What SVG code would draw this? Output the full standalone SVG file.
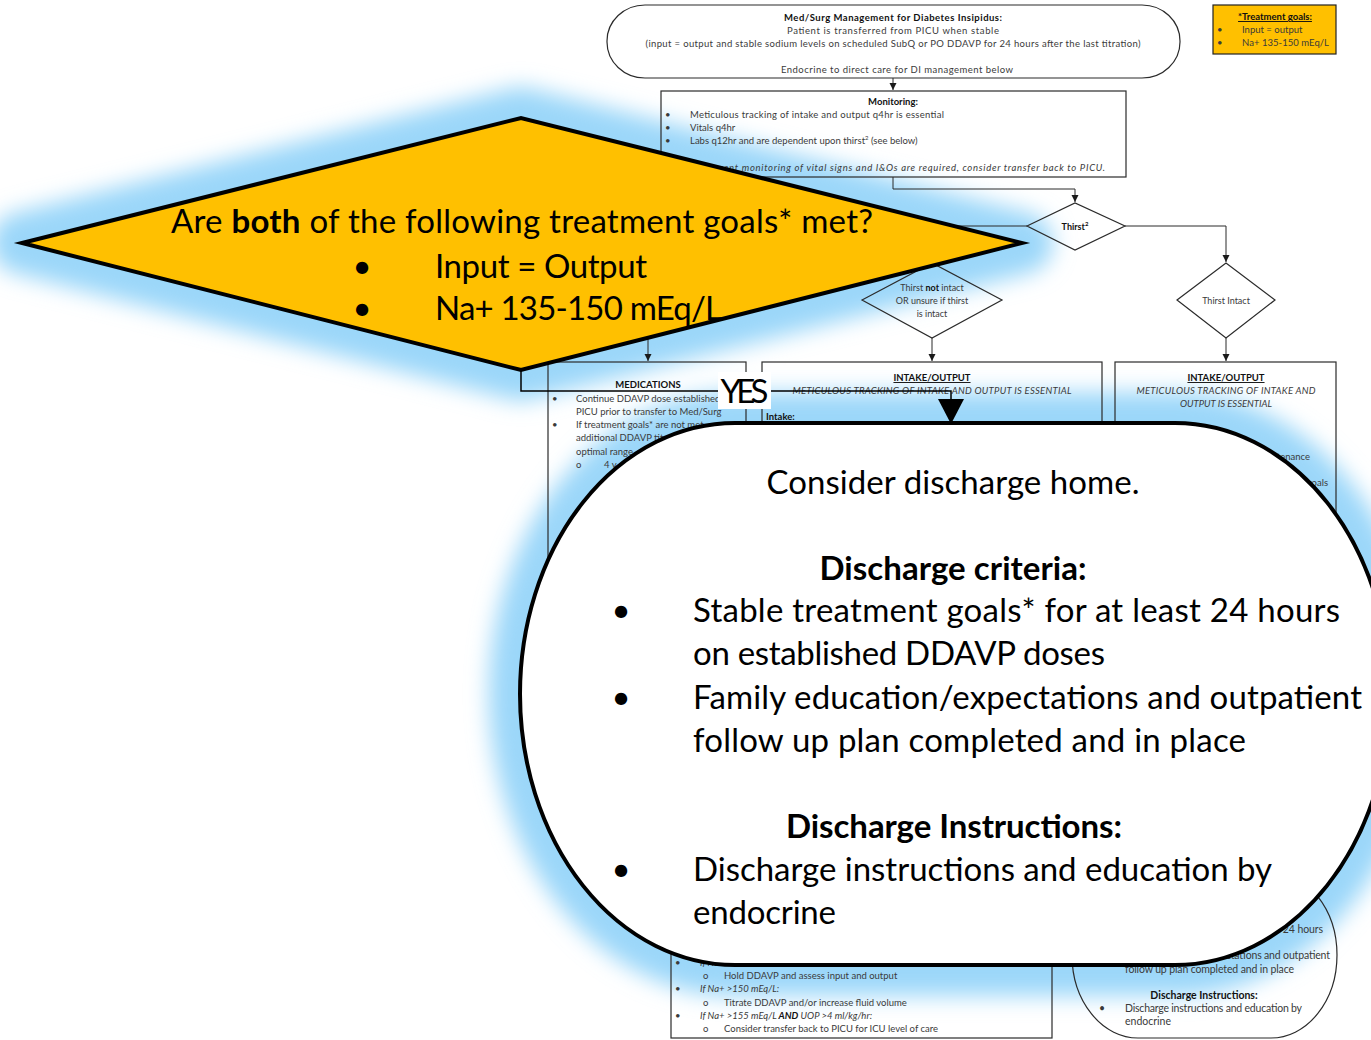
<svg xmlns="http://www.w3.org/2000/svg" width="1371" height="1040" viewBox="0 0 1371 1040">
<defs>
<style>
text{font-family:Lato,"Open Sans","Liberation Sans",sans-serif}
.s{font-size:9.5px;fill:#3a3a3a}
.t{font-size:9px;fill:#3a3a3a}
.d{font-size:10.5px;fill:#3a3a3a}
.b{font-weight:bold;fill:#111}
.i{font-style:italic}
.u{text-decoration:underline}
.m{text-anchor:middle}
.e{text-anchor:end}
.box{fill:none;stroke:#2b2b2b;stroke-width:1.2}
.ln{fill:none;stroke:#2b2b2b;stroke-width:1}
.big{font-size:33px;fill:#000}
.heavy{stroke:#000;stroke-width:4;stroke-miterlimit:12}
</style>
<marker id="ah" markerWidth="8" markerHeight="8" refX="7" refY="4" orient="auto" markerUnits="userSpaceOnUse">
<path d="M0,0.5 L7,4 L0,7.5z" fill="#1a1a1a"/>
</marker>
<filter id="glow" filterUnits="userSpaceOnUse" x="-100" y="-100" width="1600" height="1300">
<feGaussianBlur stdDeviation="11"/>
</filter>
</defs>

<rect width="1371" height="1040" fill="#fff"/>

<!-- soft blue halo behind the two enlarged shapes -->
<g id="halo" filter="url(#glow)" fill="#9bd7f9" stroke="#9bd7f9" stroke-width="62" stroke-linejoin="round">
<polygon points="22,243 521,118 1022,243 521,370"/>
<rect x="520" y="423" width="870" height="542" rx="215" ry="271"/>
</g>

<!-- underlying pathway -->
<g id="start">
<rect class="box" x="607" y="5" width="573" height="73" rx="38" ry="36"/>
<text class="s b m" x="893" y="21" textLength="218">Med/Surg Management for Diabetes Insipidus:</text>
<text class="s m" x="893" y="34" textLength="212">Patient is transferred from PICU when stable</text>
<text class="s m" x="893" y="47" textLength="495">(input = output and stable sodium levels on scheduled SubQ or PO DDAVP for 24 hours after the last titration)</text>
<text class="s m" x="897" y="73" textLength="232">Endocrine to direct care for DI management below</text>
</g>

<g id="treatment-goals">
<rect x="1213" y="5" width="123" height="49" fill="#ffc000" stroke="#222" stroke-width="1.2"/>
<text class="s b u m" x="1275" y="20">*Treatment goals:</text>
<text class="s" x="1217" y="33">•</text><text class="s" x="1242" y="33">Input = output</text>
<text class="s" x="1217" y="46">•</text><text class="s" x="1242" y="46" textLength="87">Na+ 135-150 mEq/L</text>
</g>

<g id="monitoring">
<rect class="box" x="661" y="91" width="465" height="86"/>
<text class="s b m" x="893" y="105">Monitoring:</text>
<text class="s" x="665" y="118">•</text><text class="s" x="690" y="118" textLength="254">Meticulous tracking of intake and output q4hr is essential</text>
<text class="s" x="665" y="131">•</text><text class="s" x="690" y="131">Vitals q4hr</text>
<text class="s" x="665" y="144">•</text><text class="s" x="690" y="144">Labs q12hr and are dependent upon thirst<tspan dy="-4" font-size="6">2</tspan><tspan dy="4"> (see below)</tspan></text>
<text class="s i" x="690" y="171" textLength="415">If frequent monitoring of vital signs and I&amp;Os are required, consider transfer back to PICU.</text>
</g>

<g id="thirst">
<polygon class="box" points="1027,226 1075,203 1125,226 1075,250"/>
<text class="t b m" x="1075" y="230">Thirst<tspan dy="-4" font-size="6">2</tspan></text>
</g>

<g id="thirst-not-intact">
<polygon class="box" points="862,300 932,263 1002,300 932,338"/>
<text class="t m" x="932" y="291">Thirst <tspan class="b">not</tspan> intact</text>
<text class="t m" x="932" y="304">OR unsure if thirst</text>
<text class="t m" x="932" y="317">is intact</text>
</g>

<g id="thirst-intact">
<polygon class="box" points="1177,300 1226,263 1275,300 1226,338"/>
<text class="t m" x="1226" y="304">Thirst Intact</text>
</g>

<g id="medications">
<rect class="box" x="548" y="362" width="198" height="300"/>
<text class="s b m" x="648" y="388">MEDICATIONS</text>
<text class="s" x="552" y="402">•</text><text class="s" x="576" y="402">Continue DDAVP dose established</text>
<text class="s" x="576" y="415">PICU prior to transfer to Med/Surg</text>
<text class="s" x="552" y="428">•</text><text class="s" x="576" y="428">If treatment goals* are not met</text>
<text class="s" x="576" y="441">additional DDAVP titration</text>
<text class="s" x="576" y="455">optimal range</text>
<text class="s" x="576" y="468">o</text><text class="s" x="604" y="468">4 y</text>
</g>

<g id="intake-output-a">
<rect class="box" x="762" y="362" width="340" height="540"/>
<text class="s b u m" x="932" y="381">INTAKE/OUTPUT</text>
<text class="s i m" x="932" y="394" textLength="279">METICULOUS TRACKING OF INTAKE AND OUTPUT IS ESSENTIAL</text>
<text class="s b u" x="766" y="420">Intake:</text>
</g>

<g id="intake-output-b">
<rect class="box" x="1115" y="362" width="221" height="480"/>
<text class="s b u m" x="1226" y="381">INTAKE/OUTPUT</text>
<text class="s i m" x="1226" y="394" textLength="179">METICULOUS TRACKING OF INTAKE AND</text>
<text class="s i m" x="1226" y="407">OUTPUT IS ESSENTIAL</text>
<text class="s e" x="1310" y="460">maintenance</text>
<text class="s e" x="1328" y="486">goals</text>
</g>

<g id="sodium-actions">
<rect class="box" x="671" y="945" width="381" height="93"/>
<text class="s" x="675" y="966">•</text><text class="s i" x="700" y="966">If Na+</text>
<text class="s" x="703" y="979">o</text><text class="s" x="724" y="979">Hold DDAVP and assess input and output</text>
<text class="s" x="675" y="992">•</text><text class="s i" x="700" y="992">If Na+ &gt;150 mEq/L:</text>
<text class="s" x="703" y="1006">o</text><text class="s" x="724" y="1006">Titrate DDAVP and/or increase fluid volume</text>
<text class="s" x="675" y="1019">•</text><text class="s i" x="700" y="1019">If Na+ &gt;155 mEq/L <tspan class="b">AND</tspan> UOP &gt;4 ml/kg/hr:</text>
<text class="s" x="703" y="1032">o</text><text class="s" x="724" y="1032">Consider transfer back to PICU for ICU level of care</text>
</g>

<g id="discharge-small">
<rect class="box" x="1072" y="872" width="265" height="166" rx="66" ry="83"/>
<text class="d" x="1125" y="933" textLength="198">Stable treatment goals* for at least 24 hours</text>
<text class="d" x="1125" y="959" textLength="205">Family education/expectations and outpatient</text>
<text class="d" x="1125" y="973" textLength="169">follow up plan completed and in place</text>
<text class="d b m" x="1204" y="999">Discharge Instructions:</text>
<text class="d" x="1099" y="1012">•</text><text class="d" x="1125" y="1012" textLength="177">Discharge instructions and education by</text>
<text class="d" x="1125" y="1025">endocrine</text>
</g>

<g id="connectors">
<path class="ln" d="M893,78 V90" marker-end="url(#ah)"/>
<path class="ln" d="M893,177 V189 H1075 V202" marker-end="url(#ah)"/>
<path class="ln" d="M1125,226 H1226 V262" marker-end="url(#ah)"/>
<path class="ln" d="M1027,226 H932 V262" marker-end="url(#ah)"/>
<path class="ln" d="M932,338 V361" marker-end="url(#ah)"/>
<path class="ln" d="M1226,338 V361" marker-end="url(#ah)"/>
<path class="ln" d="M648,320 V361" marker-end="url(#ah)"/>
<!-- YES branch into the discharge node -->
<path d="M521,370 V391 H951 V401" fill="none" stroke="#000" stroke-width="1.5"/>
<polygon points="938,399 964,399 951,424" fill="#000"/>
<rect x="718" y="372" width="53" height="37" fill="#fff"/>
<text class="big m" x="744.5" y="403" textLength="48">YES</text>
</g>

<!-- enlarged decision -->
<g id="decision-goals">
<polygon class="heavy" points="22,243 521,118 1022,243 521,370" fill="#ffc000"/>
<text class="big" x="171" y="233" textLength="702">Are <tspan font-weight="bold">both</tspan> of the following treatment goals* met?</text>
<text class="big m" x="362" y="278">•</text>
<text class="big" x="435" y="278" textLength="212">Input = Output</text>
<text class="big m" x="362" y="320">•</text>
<text class="big" x="435" y="320" textLength="287">Na+ 135-150 mEq/L</text>
</g>

<!-- enlarged discharge terminator -->
<g id="discharge">
<rect class="heavy" x="520" y="423" width="870" height="542" rx="215" ry="271" fill="#fff"/>
<text class="big m" x="953" y="494" textLength="373">Consider discharge home.</text>
<text class="big m" x="953" y="580" font-weight="bold" textLength="267">Discharge criteria:</text>
<text class="big m" x="621" y="622">•</text>
<text class="big" x="693" y="622" textLength="647">Stable treatment goals* for at least 24 hours</text>
<text class="big" x="693" y="665" textLength="412">on established DDAVP doses</text>
<text class="big m" x="621" y="709">•</text>
<text class="big" x="693" y="709" textLength="669">Family education/expectations and outpatient</text>
<text class="big" x="693" y="752" textLength="553">follow up plan completed and in place</text>
<text class="big m" x="954" y="838" font-weight="bold" textLength="336">Discharge Instructions:</text>
<text class="big m" x="621" y="881">•</text>
<text class="big" x="693" y="881" textLength="579">Discharge instructions and education by</text>
<text class="big" x="693" y="924" textLength="143">endocrine</text>
</g>
</svg>
